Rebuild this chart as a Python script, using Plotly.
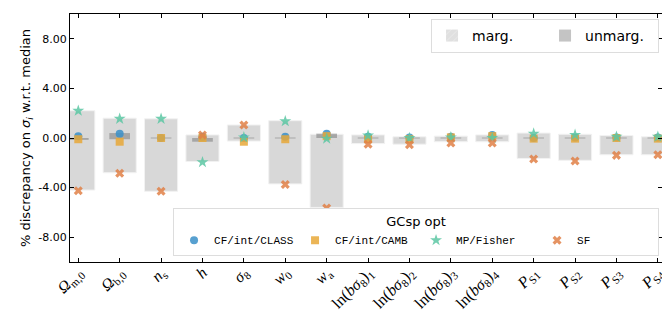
import plotly.graph_objects as go

params = ["<i>Ω</i><sub>m,0</sub>", "<i>Ω</i><sub>b,0</sub>", "<i>n</i><sub>s</sub>", "<i>h</i>",
          "<i>σ</i><sub>8</sub>", "<i>w</i><sub>0</sub>", "<i>w</i><sub>a</sub>",
          "ln(<i>bσ</i><sub>8</sub>)<sub>1</sub>", "ln(<i>bσ</i><sub>8</sub>)<sub>2</sub>",
          "ln(<i>bσ</i><sub>8</sub>)<sub>3</sub>", "ln(<i>bσ</i><sub>8</sub>)<sub>4</sub>",
          "<i>P</i><sub>S1</sub>", "<i>P</i><sub>S2</sub>", "<i>P</i><sub>S3</sub>", "<i>P</i><sub>S4</sub>"]

marg_top = [2.2, 1.6, 1.55, 0.25, 1.05, 1.4, 0.3, 0.25, 0.1, 0.15, 0.25, 0.4, 0.3, 0.2, 0.1]
marg_bot = [-4.2, -2.8, -4.3, -1.9, -0.25, -3.7, -5.6, -0.45, -0.5, -0.3, -0.3, -1.65, -1.8, -1.35, -1.35]
unmarg_top = [0.0, 0.4, 0.04, 0.0, 0.04, 0.04, 0.35, 0.04, 0.04, 0.04, 0.04, 0.04, 0.04, 0.04, 0.04]
unmarg_bot = [-0.15, -0.1, -0.04, -0.3, -0.04, -0.04, 0.0, -0.04, -0.04, -0.04, -0.04, -0.04, -0.04, -0.04, -0.04]

cf_class = [0.15, 0.35, 0.0, 0.1, 0.0, 0.1, 0.35, 0.1, 0.05, 0.1, 0.25, 0.0, 0.05, 0.05, 0.05]
cf_camb = [-0.1, -0.3, 0.0, 0.0, -0.3, -0.1, 0.15, -0.1, -0.1, 0.05, 0.15, -0.05, -0.05, 0.0, -0.05]
mp_fisher = [2.2, 1.55, 1.55, -1.95, 0.05, 1.35, -0.05, 0.2, 0.0, 0.05, 0.0, 0.35, 0.25, 0.1, 0.1]
sf = [-4.25, -2.85, -4.3, 0.25, 1.05, -3.75, -5.65, -0.5, -0.55, -0.4, -0.4, -1.7, -1.85, -1.4, -1.35]

yticks = [-8, -4, 0, 4, 8]
yticklabels = ["-8.00", "-4.00", "0.00", "4.00", "8.00"]

xs = list(range(len(params)))

fig = go.Figure()
fig.add_trace(go.Bar(
    x=xs, y=[t - b for t, b in zip(marg_top, marg_bot)], base=marg_bot, width=0.8,
    name="marg.", showlegend=False,
    marker=dict(color="#d8d8d8", line=dict(color="#f2f2f2", width=1)),
))
fig.add_trace(go.Bar(
    x=xs, y=[t - b for t, b in zip(unmarg_top, unmarg_bot)], base=unmarg_bot, width=0.5,
    name="unmarg.", showlegend=False,
    marker=dict(color="rgba(150,150,150,0.75)", line=dict(width=0)),
))
# legend-only entries
fig.add_trace(go.Bar(
    x=[None], y=[None], name="marg.", legend="legend",
    marker=dict(color="#e4e4e4", line=dict(width=0),
                pattern=dict(shape="/", fgcolor="#f4f4f4", bgcolor="#e0e0e0", size=6, solidity=0.2)),
))
fig.add_trace(go.Bar(
    x=[None], y=[None], name="unmarg.", legend="legend",
    marker=dict(color="#c4c4c4", line=dict(width=0)),
))

mk = [
    ("CF/int/CLASS", cf_class, "circle", "rgba(58,143,200,0.85)", 8),
    ("CF/int/CAMB", cf_camb, "square", "rgba(232,168,56,0.85)", 8),
    ("MP/Fisher", mp_fisher, "star", "rgba(92,199,163,0.85)", 9),
    ("SF", sf, "x", "rgba(224,128,70,0.85)", 8),
]
for name, vals, sym, col, sz in mk:
    fig.add_trace(go.Scatter(
        x=xs, y=vals, mode="markers", name=name, legend="legend2",
        marker=dict(symbol=sym, color=col, size=sz, line=dict(width=0)),
    ))

fig.update_layout(
    width=670, height=313,
    margin=dict(l=62, r=16, t=6, b=59),
    paper_bgcolor="white", plot_bgcolor="white",
    barmode="overlay",
    font=dict(family="DejaVu Sans", size=12, color="black"),
    legend=dict(
        orientation="h", x=0.995, xanchor="right", y=0.98, yanchor="top",
        bgcolor="white", bordercolor="#dddddd", borderwidth=1,
        font=dict(family="DejaVu Sans", size=14), entrywidth=68, itemwidth=30,
        traceorder="normal",
    ),
    legend2=dict(
        orientation="h", x=0.995, xanchor="right", y=0.025, yanchor="bottom",
        bgcolor="white", bordercolor="#dddddd", borderwidth=1,
        font=dict(family="Liberation Mono", size=11), entrywidth=76, itemwidth=30,
        title=dict(text="GCsp opt", side="top center", font=dict(family="DejaVu Sans", size=13)),
        traceorder="normal",
    ),
)
fig.update_xaxes(
    type="linear",
    range=[-0.2, 14.1], tickmode="array", tickvals=xs, ticktext=params, tickangle=-45,
    tickfont=dict(family="Liberation Serif", size=16),
    ticklabelstandoff=-6, ticklabelshift=0,
    showline=True, linecolor="black", linewidth=1.2, mirror="ticks",
    ticks="inside", ticklen=4, tickcolor="black", showgrid=False, zeroline=False,
    automargin=False,
)
fig.update_yaxes(
    range=[-10, 10], tickmode="array", tickvals=yticks, ticktext=yticklabels,
    tickfont=dict(family="DejaVu Sans", size=11),
    title=dict(text="% discrepancy on <i>σ<sub>i</sub></i> w.r.t. median", font=dict(size=13), standoff=4),
    showline=True, linecolor="black", linewidth=1.2, mirror="ticks",
    ticks="inside", ticklen=4, tickcolor="black", showgrid=False, zeroline=False,
)

fig.write_html("out.html")
